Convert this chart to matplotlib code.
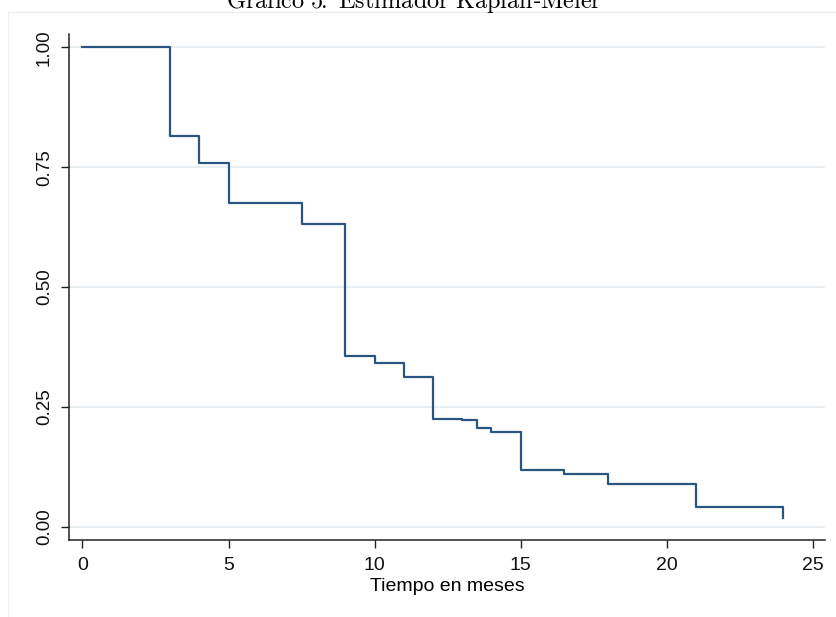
import matplotlib
matplotlib.use("Agg")
import matplotlib.pyplot as plt
from matplotlib.lines import Line2D

plt.rcParams['mathtext.fontset'] = 'cm'
plt.rcParams['font.family'] = ['Liberation Sans', 'DejaVu Sans']

# Kaplan-Meier estimate
tiempo = [0, 3, 4, 5, 7.5, 9, 10, 11, 12, 13, 13.5, 14, 15, 16.5, 18, 21, 24]
supervivencia = [1.0, 0.815, 0.759, 0.676, 0.631, 0.356, 0.342, 0.313, 0.225,
                 0.222, 0.205, 0.198, 0.119, 0.110, 0.089, 0.040, 0.017]

xticks = [0, 5, 10, 15, 20, 25]
yticks = [0.0, 0.25, 0.5, 0.75, 1.0]
ytick_labels = ["0.00", "0.25", "0.50", "0.75", "1.00"]

fig = plt.figure(figsize=(8.36, 6.17), dpi=100)
ax = fig.add_axes([0.0831, 0.1248, 0.904, 0.820])

# faint outer frame of the graph region
fig.add_artist(Line2D([8/836, 8/836], [0, 1 - 12/617], color='#ededed', lw=0.8))
fig.add_artist(Line2D([8/836, 1], [1 - 12/617, 1 - 12/617], color='#ededed', lw=0.8))

for y in yticks:
    ax.axhline(y, color='#e6eef1', lw=1.3, zorder=0)

ax.step(tiempo, supervivencia, where='post', color='#2a5580', lw=1.6, zorder=3)

ax.set_xlim(-0.445, 25.43)
ax.set_ylim(-0.028, 1.028)
ax.set_xticks(xticks)
ax.set_yticks(yticks)
ax.set_yticklabels(ytick_labels, rotation=90, va='center')
ax.tick_params(axis='both', direction='out', length=6, width=1,
               color='#222222', labelcolor='#111111')
ax.tick_params(axis='x', pad=6, labelsize=14)
ax.tick_params(axis='y', pad=6, labelsize=13.5)

for side in ['top', 'right']:
    ax.spines[side].set_visible(False)
for side in ['left', 'bottom']:
    ax.spines[side].set_linewidth(1.1)
    ax.spines[side].set_color('#222222')

ax.set_xlabel("Tiempo en meses", fontsize=14, labelpad=3)

fig.text(0.495, 1 - 9/617,
         r"$\mathrm{Gr\acute{a}fico\ 5\!\!:\ Estimador\ Kaplan}$-$\mathrm{Meier}$",
         ha='center', va='baseline', fontsize=17.5)

fig.savefig("out.png", dpi=100)
